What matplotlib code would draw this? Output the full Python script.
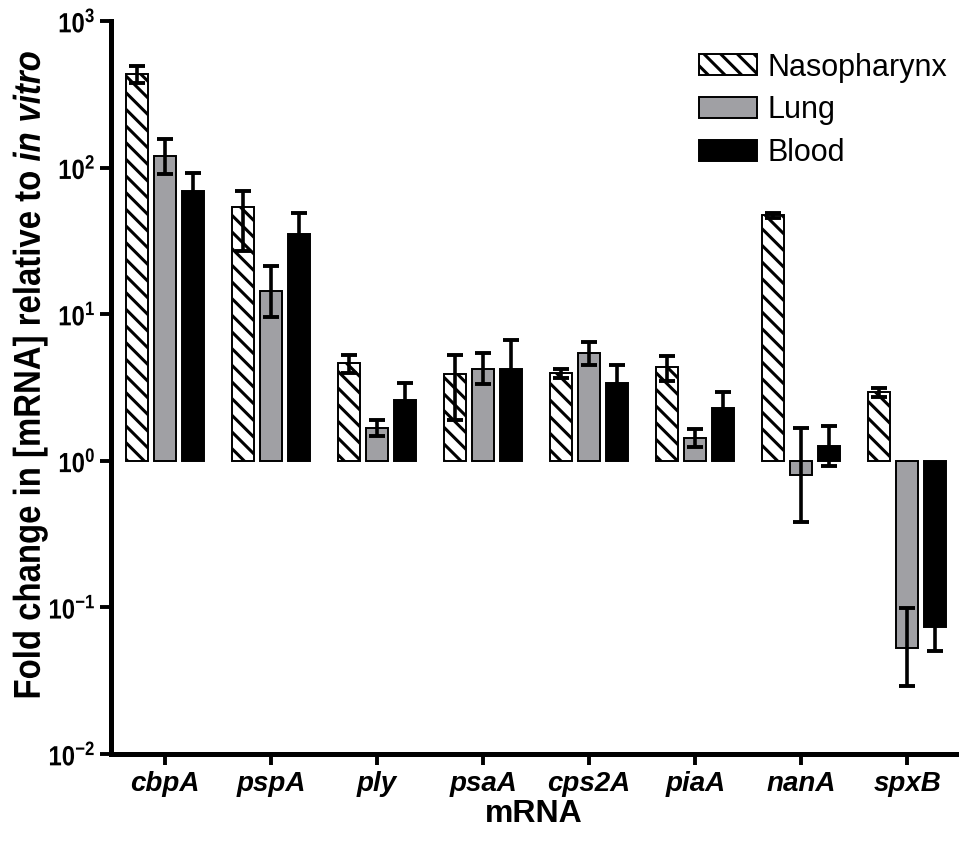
import numpy as np
import matplotlib
matplotlib.use("Agg")
import matplotlib.pyplot as plt
from matplotlib import font_manager
from matplotlib.patheffects import AbstractPathEffect
from matplotlib.transforms import Affine2D

# ---------------- data ----------------
genes = ["cbpA", "pspA", "ply", "psaA", "cps2A", "piaA", "nanA", "spxB"]
series = ["Nasopharynx", "Lung", "Blood"]

naso_mean = [438, 54.3, 4.64, 3.94, 3.97, 4.40, 47.4, 2.97]
naso_lo = [375, 27.1, 4.00, 1.90, 3.70, 3.51, 45.3, 2.73]
naso_hi = [495, 69.5, 5.26, 5.26, 4.22, 5.15, 49.4, 3.13]

lung_mean = [120, 14.3, 1.67, 4.26, 5.40, 1.43, 0.799, 0.0532]
lung_lo = [91, 9.6, 1.47, 3.34, 4.50, 1.25, 0.385, 0.0292]
lung_hi = [158, 21.2, 1.90, 5.43, 6.48, 1.64, 1.67, 0.0998]

blood_mean = [69.5, 35.5, 2.59, 4.26, 3.42, 2.29, 1.265, 0.0738]
blood_lo = [52.7, 25.5, 1.98, 2.70, 2.60, 1.77, 0.925, 0.0506]
blood_hi = [91.7, 49.4, 3.39, 6.69, 4.52, 2.97, 1.73, 0.108]

ytick_exps = [-2, -1, 0, 1, 2, 3]
ylabel_text = r"Fold change in [mRNA] relative to $\mathit{in\ vitro}$"
xlabel = "mRNA"


class Squish(AbstractPathEffect):
    """Scale drawn text paths about a fixed display point (condensed look)."""

    def __init__(self, sx=1.0, sy=1.0, x0=0.0, y0=0.0):
        super().__init__()
        self._t = Affine2D().translate(-x0, -y0).scale(sx, sy).translate(x0, y0)

    def draw_path(self, renderer, gc, tpath, affine, rgbFace=None):
        renderer.draw_path(gc, tpath, affine + self._t, rgbFace)


# ---------------- style ----------------
names = {f.name for f in font_manager.fontManager.ttflist}
base_font = "Liberation Sans" if "Liberation Sans" in names else "DejaVu Sans"
plt.rcParams["font.family"] = [base_font, "DejaVu Sans"]
plt.rcParams["mathtext.fontset"] = "custom"
plt.rcParams["mathtext.rm"] = base_font + ":bold"
plt.rcParams["mathtext.bf"] = base_font + ":bold"
plt.rcParams["mathtext.it"] = base_font + ":bold:italic"
plt.rcParams["mathtext.default"] = "bf"
plt.rcParams["hatch.linewidth"] = 2.2

fig = plt.figure(figsize=(9.63, 8.41), dpi=100)
ax = fig.add_axes([0.1153, 0.1034, 0.8774, 0.8716])
ax.set_yscale("log")

x = np.arange(len(genes))
width = 0.207
offset = 0.264
gray = "#a0a0a4"

specs = [
    (naso_mean, naso_lo, naso_hi, dict(facecolor="white", hatch="\\\\")),
    (lung_mean, lung_lo, lung_hi, dict(facecolor=gray)),
    (blood_mean, blood_lo, blood_hi, dict(facecolor="black")),
]

for i, (m, lo, hi, sty) in enumerate(specs):
    m = np.asarray(m, float)
    lo = np.asarray(lo, float)
    hi = np.asarray(hi, float)
    xs = x + (i - 1) * offset
    ax.bar(xs, m - 1, bottom=1, width=width, edgecolor="black",
           linewidth=1.4, label=series[i], zorder=2, **sty)
    ax.errorbar(xs, m, yerr=[m - lo, hi - m], fmt="none", ecolor="black",
                elinewidth=2.6, capsize=5.5, capthick=2.8, zorder=3)

ax.set_ylim(10.0 ** ytick_exps[0], 10.0 ** ytick_exps[-1])
ax.set_xlim(-0.506, 7.458)

ax.set_yticks([10.0 ** e for e in ytick_exps],
              labels=[r"$\mathbf{10^{%d}}$" % e for e in ytick_exps])
ax.yaxis.set_minor_locator(matplotlib.ticker.NullLocator())
ax.set_xticks(x, labels=genes)

ytick_size = 17.2           # drawn stretched vertically -> condensed look
for lab in ax.get_xticklabels():
    lab.set_fontstyle("italic")
    lab.set_fontweight("bold")
    lab.set_fontsize(20)
for lab in ax.get_yticklabels():
    lab.set_fontsize(ytick_size)

ax.tick_params(axis="both", direction="out", length=8, width=2.8, color="black")
ax.tick_params(axis="x", pad=4)
ax.tick_params(axis="y", pad=3)

for s in ["top", "right"]:
    ax.spines[s].set_visible(False)
for s in ["left", "bottom"]:
    ax.spines[s].set_linewidth(3.6)

ax.set_xlabel(xlabel, fontsize=23, fontweight="bold", labelpad=1.5)
ylab = ax.set_ylabel(ylabel_text, fontsize=27, fontweight="bold")

leg = ax.legend(loc="upper left", bbox_to_anchor=(0.696, 0.957), frameon=False,
                fontsize=22, handlelength=1.9, handleheight=0.68,
                handletextpad=0.33, labelspacing=0.42, borderpad=0,
                borderaxespad=0)

# ---- place the y-label and give it / the y tick labels a condensed look ----
fig.canvas.draw()
axbb = ax.get_window_extent()
target_cx = 30.0            # px from left
target_cy = 841 - 375.0     # display y of label centre
ax.yaxis.set_label_coords(-0.06, 0.5)
fig.canvas.draw()
bb = ylab.get_window_extent()
cx = 0.5 * (bb.x0 + bb.x1)
cy = 0.5 * (bb.y0 + bb.y1)
new_x = -0.06 + (target_cx - cx) / axbb.width
new_y = 0.5 + (target_cy - cy) / axbb.height
ax.yaxis.set_label_coords(new_x, new_y)
fig.canvas.draw()
bb = ylab.get_window_extent()
sy = 649.0 / bb.height
ylab.set_path_effects([Squish(1.0, sy, 0.5 * (bb.x0 + bb.x1), 0.5 * (bb.y0 + bb.y1))])

for t in ax.get_yticklabels():
    tb = t.get_window_extent()
    t.set_path_effects([Squish(1.0, 20.0 / ytick_size, 0.0, 0.5 * (tb.y0 + tb.y1))])

fig.savefig("out.png", dpi=100)
